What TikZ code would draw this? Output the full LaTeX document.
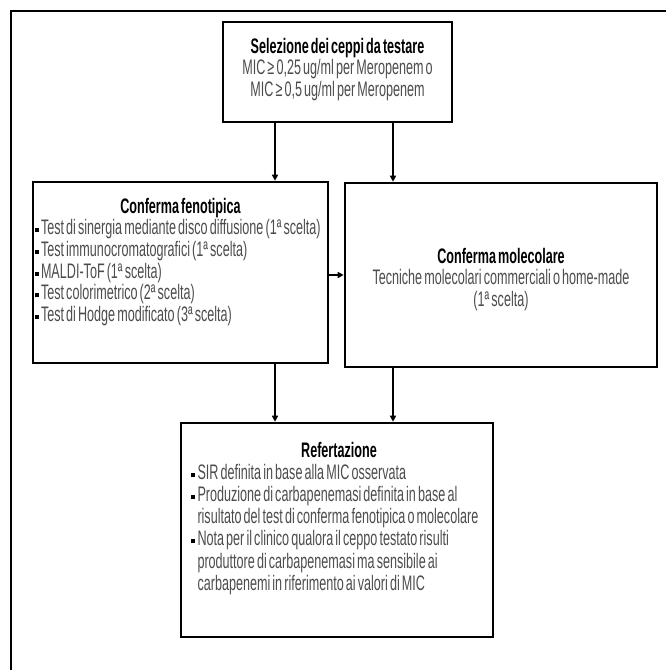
\documentclass[tikz,border=0pt]{standalone}
\usepackage{fontspec}
\setmainfont[FakeStretch=0.6,WordSpace=0.6]{Liberation Sans}
\usetikzlibrary{positioning,arrows.meta}
\newcommand{\sq}{\textcolor{black}{\rule[2.5pt]{4pt}{4pt}}\hspace{2.5pt}}
\newcommand{\ttl}[1]{\makebox[\linewidth]{\color{black}\bfseries #1}}
\begin{document}
\begin{tikzpicture}[x=1pt,y=-1pt,
    box/.style={draw,line width=2.6pt,inner sep=0pt},
    txt/.style={inner sep=0pt,font=\fontsize{21}{21.7}\selectfont,text=black!70},
    arr/.style={line width=1.6pt,-{Triangle[length=6pt,width=6pt]}}]
        \useasboundingbox (0,0) rectangle (666,670);
        % frame, only two sides show
        \draw[line width=2pt](11,680)--(11,11)--(680,11);
        % boxes
        \node[box,minimum width=229pt,minimum height=100pt](sel) at (337.5,72){};
        \node[box,minimum width=295pt,minimum height=181pt](pheno) at (180.5,272.5){};
        \node[box,minimum width=312pt,minimum height=184pt](mol) at (501,275){};
        \node[box,minimum width=312pt,minimum height=214pt](ref) at (337,530){};
        % texts
        \node[txt,align=center,below=17pt of sel.north](seltext){%
            \textcolor{black}{\bfseries Selezione dei ceppi da testare}\\
            MIC ≥ 0,25 ug/ml per Meropenem o\\
            MIC ≥ 0,5 ug/ml per Meropenem};
        \node[txt,align=left,text width=292pt,below=17pt of pheno.north](phenotext){%
            \spaceskip=0pt\xspaceskip=0pt
            \ttl{Conferma fenotipica}\\
            \sq Test di sinergia mediante disco diffusione (1ª scelta)\\
            \sq Test immunocromatografici (1ª scelta)\\
            \sq MALDI-ToF (1ª scelta)\\
            \sq Test colorimetrico (2ª scelta)\\
            \sq Test di Hodge modificato (3ª scelta)};
        \node[txt,align=center,below=66pt of mol.north](moltext){%
            \textcolor{black}{\bfseries Conferma molecolare}\\
            Tecniche molecolari commerciali o home-made\\
            (1ª scelta)};
        \node[txt,align=left,text width=296pt,xshift=2pt,below=20pt of ref.north,
            font=\fontsize{21}{22.2}\selectfont](reftext){%
            \spaceskip=0pt\xspaceskip=0pt
            \ttl{Refertazione}\\
            \sq SIR definita in base alla MIC osservata\\
            \sq Produzione di carbapenemasi definita in base al\\
            \phantom{\sq}risultato del test di conferma fenotipica o molecolare\\
            \sq Nota per il clinico qualora il ceppo testato risulti\\
            \phantom{\sq}produttore di carbapenemasi ma sensibile ai\\
            \phantom{\sq}carbapenemi in riferimento ai valori di MIC};
        % connectors
        \coordinate(left) at (275,0);
        \coordinate(right) at (393,0);
        \draw[arr](sel.south-|left)--(pheno.north-|left);
        \draw[arr](sel.south-|right)--(mol.north-|right);
        \draw[arr](pheno.south-|left)--(ref.north-|left);
        \draw[arr](mol.south-|right)--(ref.north-|right);
        \draw[arr](pheno.east|-0,275)--(mol.west|-0,275);
    \end{tikzpicture}
\end{document}
